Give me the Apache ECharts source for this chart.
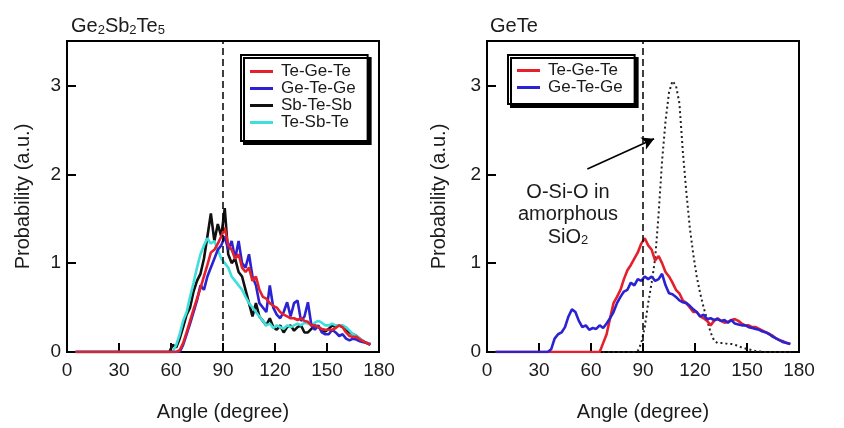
<!DOCTYPE html>
<html>
<head>
<meta charset="utf-8">
<script src="https://cdn.jsdelivr.net/npm/echarts@6/dist/echarts.min.js"></script>
<style>
  html, body { margin: 0; padding: 0; background: #fff; }
  #chart { width: 844px; height: 428px; }
</style>
</head>
<body>
<div id="chart"></div>
<script>
// Bond-angle axis (degrees) shared by every curve
const angles = [5,
  35, 37, 39, 41, 43, 45, 47, 49, 51, 53, 55, 57, 59, 61, 63, 65, 67, 69, 71, 73,
  75, 77, 79, 81, 83, 85, 87, 89, 91, 93, 95, 97, 99, 101, 103, 105, 107, 109, 111, 113,
  115, 117, 119, 121, 123, 125, 127, 129, 131, 133, 135, 137, 139, 141, 143, 145, 147, 149, 151, 153,
  155, 157, 159, 161, 163, 165, 167, 169, 171, 173, 175];

// Ge2Sb2Te5 bond-angle distributions
const gstTeGeTe = [0,
  0, 0, 0, 0, 0, 0, 0, 0, 0, 0, 0, 0, 0, 0, 0,
  0.02, 0.1, 0.22, 0.35, 0.48, 0.6, 0.72, 0.85, 0.98, 1.12,
  1.15, 1.22, 1.3, 1.4, 1.2, 1.15, 1.05, 1.1, 0.95, 0.9,
  0.95, 0.8, 0.85, 0.7, 0.62, 0.6, 0.55, 0.52, 0.5, 0.45,
  0.42, 0.4, 0.38, 0.38, 0.36, 0.38, 0.35, 0.34, 0.3, 0.3,
  0.28, 0.26, 0.25, 0.25, 0.25, 0.27, 0.3, 0.28, 0.22, 0.18,
  0.17, 0.17, 0.14, 0.12, 0.1, 0.08];
const gstGeTeGe = [0,
  0, 0, 0, 0, 0, 0, 0, 0, 0, 0, 0, 0, 0, 0, 0, 0,
  0.08, 0.2, 0.32, 0.45, 0.58, 0.75, 0.7, 0.85, 0.95, 1.05,
  1.15, 1.2, 1.3, 1.15, 1.25, 1.05, 1.25, 1.0, 0.95, 1.1,
  0.85, 0.75, 0.55, 0.5, 0.45, 0.75, 0.5, 0.42, 0.38, 0.45,
  0.56, 0.4, 0.55, 0.58, 0.35, 0.4, 0.56, 0.3, 0.25, 0.3,
  0.22, 0.2, 0.2, 0.25, 0.22, 0.18, 0.2, 0.15, 0.13, 0.15,
  0.14, 0.12, 0.11, 0.1, 0.08];
const gstSbTeSb = [0,
  0, 0, 0, 0, 0, 0, 0, 0, 0, 0, 0, 0, 0,
  0.08, 0.05, 0.15, 0.28, 0.42, 0.5, 0.68, 0.8, 0.88, 1.05,
  1.3, 1.56, 1.25, 1.44, 1.3, 1.62, 1.1, 1.0, 1.05, 0.9,
  0.85, 0.7, 0.55, 0.4, 0.55, 0.4, 0.35, 0.3, 0.38, 0.28,
  0.25, 0.3, 0.22, 0.28, 0.3, 0.24, 0.28, 0.3, 0.22, 0.22,
  0.26, 0.3, 0.28, 0.25, 0.23, 0.26, 0.3, 0.28, 0.3, 0.28,
  0.24, 0.22, 0.2, 0.18, 0.15, 0.12, 0.1, 0.09];
const gstTeSbTe = [0,
  0, 0, 0, 0, 0, 0, 0, 0, 0, 0, 0, 0, 0, 0,
  0.08, 0.2, 0.35, 0.45, 0.62, 0.78, 0.95, 1.1, 1.2, 1.28,
  1.22, 1.25, 1.15, 1.05, 1.0, 0.95, 0.85, 0.8, 0.75, 0.7,
  0.62, 0.55, 0.5, 0.45, 0.4, 0.35, 0.3, 0.32, 0.27, 0.3,
  0.28, 0.26, 0.3, 0.28, 0.3, 0.32, 0.3, 0.33, 0.32, 0.3,
  0.33, 0.35, 0.33, 0.3, 0.3, 0.32, 0.3, 0.3, 0.3, 0.28,
  0.24, 0.2, 0.18, 0.15, 0.12, 0.1, 0.09];

// GeTe bond-angle distributions
const geteTeGeTe = [0,
  0, 0, 0, 0, 0, 0, 0, 0, 0, 0, 0, 0, 0, 0, 0, 0,
  0.1, 0.2, 0.38, 0.55, 0.62, 0.7, 0.82, 0.92, 0.98, 1.05,
  1.12, 1.22, 1.28, 1.2, 1.15, 1.03, 1.08, 1.0, 0.9, 0.85,
  0.78, 0.7, 0.66, 0.58, 0.55, 0.5, 0.45, 0.45, 0.4, 0.38,
  0.35, 0.3, 0.35, 0.38, 0.35, 0.33, 0.34, 0.36, 0.37, 0.35,
  0.32, 0.3, 0.3, 0.28, 0.28, 0.26, 0.24, 0.22, 0.2, 0.18,
  0.15, 0.13, 0.12, 0.1, 0.09];
const geteGeTeGe = [0,
  0, 0.03, 0.15, 0.2, 0.22, 0.28, 0.4, 0.48, 0.45, 0.35,
  0.28, 0.3, 0.25, 0.27, 0.26, 0.3, 0.27, 0.32, 0.38, 0.45,
  0.55, 0.62, 0.68, 0.7, 0.78, 0.75, 0.82, 0.8, 0.85, 0.82,
  0.85, 0.8, 0.82, 0.88, 0.75, 0.66, 0.65, 0.62, 0.58, 0.56,
  0.55, 0.52, 0.48, 0.45, 0.4, 0.42, 0.37, 0.38, 0.36, 0.37,
  0.35, 0.36, 0.33, 0.36, 0.32, 0.31, 0.3, 0.3, 0.28, 0.27,
  0.26, 0.25, 0.23, 0.22, 0.2, 0.17, 0.15, 0.13, 0.11, 0.1,
  0.09];
// O-Si-O angle distribution in amorphous SiO2
const sio2OSiO = [null,
  0, 0, 0, 0, 0, 0, 0, 0, 0, 0, 0, 0, 0, 0, 0, 0, 0, 0, 0, 0, 0, 0, 0, 0, 0, 0,
  0.01, 0.1, 0.28, 0.55, 0.78, 1.05, 1.55, 2.15, 2.6, 2.92,
  3.05, 3.0, 2.8, 2.25, 1.8, 1.4, 1.1, 0.85, 0.66, 0.5,
  0.36, 0.22, 0.13, 0.1, 0.1, 0.1, 0.09, 0.09, 0.08, 0.07,
  0.05, 0.04, 0.03, 0.02, 0.01, 0.01, 0, 0, 0, 0,
  0, 0, 0, 0, 0];

const legendLeft = ['Te-Ge-Te', 'Ge-Te-Ge', 'Sb-Te-Sb', 'Te-Sb-Te'];
const legendRight = ['Te-Ge-Te', 'Ge-Te-Ge'];
const noteLines = ['O-Si-O in', 'amorphous', 'SiO{s|2}'];
const refAngle = 90;
const arrowFrom = [57.9, 2.06];
const arrowTo = [96.4, 2.40];

const FONT = '"Liberation Sans", Arial, Helvetica, sans-serif';
const INK = '#1b1b1b';
const RED = '#e3202b', BLUE = '#2b22d2', BLACK = '#111111', CYAN = '#3fe0dc';

const pairs = vals => angles.map((a, i) => [a, vals[i]]);

function xAxis(gridIndex) {
  return {
    type: 'value', gridIndex, min: 0, max: 180, interval: 30,
    name: 'Angle (degree)', nameLocation: 'middle', nameGap: 50,
    nameTextStyle: { fontFamily: FONT, fontSize: 20, color: INK },
    axisLine: { show: true, lineStyle: { color: '#000', width: 2 } },
    axisTick: { inside: true, length: 9, lineStyle: { color: '#000', width: 2 } },
    axisLabel: { margin: 9, fontFamily: FONT, fontSize: 19, color: INK },
    splitLine: { show: false }
  };
}
function yAxis(gridIndex, nameGap) {
  return {
    type: 'value', gridIndex, min: 0, max: 3.5, interval: 1,
    name: 'Probability (a.u.)', nameLocation: 'middle', nameGap,
    nameTextStyle: { fontFamily: FONT, fontSize: 20, color: INK },
    axisLine: { show: true, lineStyle: { color: '#000', width: 2 } },
    axisTick: { inside: true, length: 9, lineStyle: { color: '#000', width: 2 } },
    axisLabel: {
      margin: 6, fontFamily: FONT, fontSize: 19, color: INK,
      formatter: v => (Number.isInteger(v) ? String(v) : '')
    },
    splitLine: { show: false }
  };
}
function curve(name, idx, vals, color, extra) {
  return Object.assign({
    name, type: 'line', xAxisIndex: idx, yAxisIndex: idx,
    data: pairs(vals), showSymbol: false, symbol: 'none',
    lineStyle: { color, width: 2.6 }, itemStyle: { color },
    animation: false, silent: true
  }, extra || {});
}
const refLine = {
  silent: true, symbol: 'none', label: { show: false }, animation: false,
  lineStyle: { color: '#000', width: 1.5, type: [7, 4] },
  data: [{ xAxis: refAngle }]
};
function legend(data, left, lineHeight, padding) {
  return {
    data, left, top: 55, orient: 'vertical', selectedMode: false,
    icon: 'rect', itemGap: 0, itemWidth: 23, itemHeight: 3, padding,
    textStyle: { fontFamily: FONT, fontSize: 17, color: INK, lineHeight, padding: [0, 0, 0, 3] },
    backgroundColor: '#fff', borderColor: '#000', borderWidth: 2, borderRadius: 0,
    shadowColor: '#000', shadowBlur: 0, shadowOffsetX: 3, shadowOffsetY: 3
  };
}
const subStyle = { fontFamily: FONT, fontSize: 13, color: INK, lineHeight: 8, verticalAlign: 'bottom' };

const chart = echarts.init(document.getElementById('chart'), null, { renderer: 'canvas' });
chart.setOption({
  backgroundColor: '#fff',
  animation: false,
  title: [
    { text: 'Ge{s|2}Sb{s|2}Te{s|5}', left: 66, top: 11,
      textStyle: { fontFamily: FONT, fontSize: 20, fontWeight: 'normal', color: INK, lineHeight: 21, rich: { s: subStyle } } },
    { text: 'GeTe', left: 485, top: 11,
      textStyle: { fontFamily: FONT, fontSize: 20, fontWeight: 'normal', color: INK, lineHeight: 21 } }
  ],
  grid: [
    { left: 67, right: 465, top: 41, bottom: 76, show: true, borderColor: '#000', borderWidth: 2, backgroundColor: 'transparent' },
    { left: 487, right: 45, top: 41, bottom: 76, show: true, borderColor: '#000', borderWidth: 2, backgroundColor: 'transparent' }
  ],
  xAxis: [xAxis(0), xAxis(1)],
  yAxis: [yAxis(0, 34), yAxis(1, 38)],
  legend: [
    legend(legendLeft, 241, 15.5, [8, 12, 10, 9]),
    legend(legendRight, 508, 16.5, [7, 12, 8, 9])
  ],
  series: [
    curve('Sb-Te-Sb', 0, gstSbTeSb, BLACK, { markLine: refLine }),
    curve('Te-Sb-Te', 0, gstTeSbTe, CYAN),
    curve('Ge-Te-Ge', 0, gstGeTeGe, BLUE),
    curve('Te-Ge-Te', 0, gstTeGeTe, RED),
    curve('O-Si-O', 1, sio2OSiO, '#222', {
      lineStyle: { color: '#222', width: 2, type: [2, 3] },
      markLine: {
        silent: true, animation: false, label: { show: false },
        symbol: ['none', 'arrow'], symbolSize: [10, 12],
        lineStyle: { color: '#000', width: 1.6, type: 'solid' },
        data: [[{ coord: arrowFrom }, { coord: arrowTo }]]
      }
    }),
    curve('Te-Ge-Te', 1, geteTeGeTe, RED, { markLine: refLine }),
    curve('Ge-Te-Ge', 1, geteGeTeGe, BLUE)
  ],
  graphic: noteLines.map((line, i) => ({
    type: 'text', x: 568, y: 192 + i * 22.5, silent: true,
    style: {
      text: line, align: 'center', verticalAlign: 'middle',
      fontFamily: FONT, fontSize: 20, fill: INK,
      rich: { s: Object.assign({}, subStyle) }
    }
  }))
});
</script>
</body>
</html>
